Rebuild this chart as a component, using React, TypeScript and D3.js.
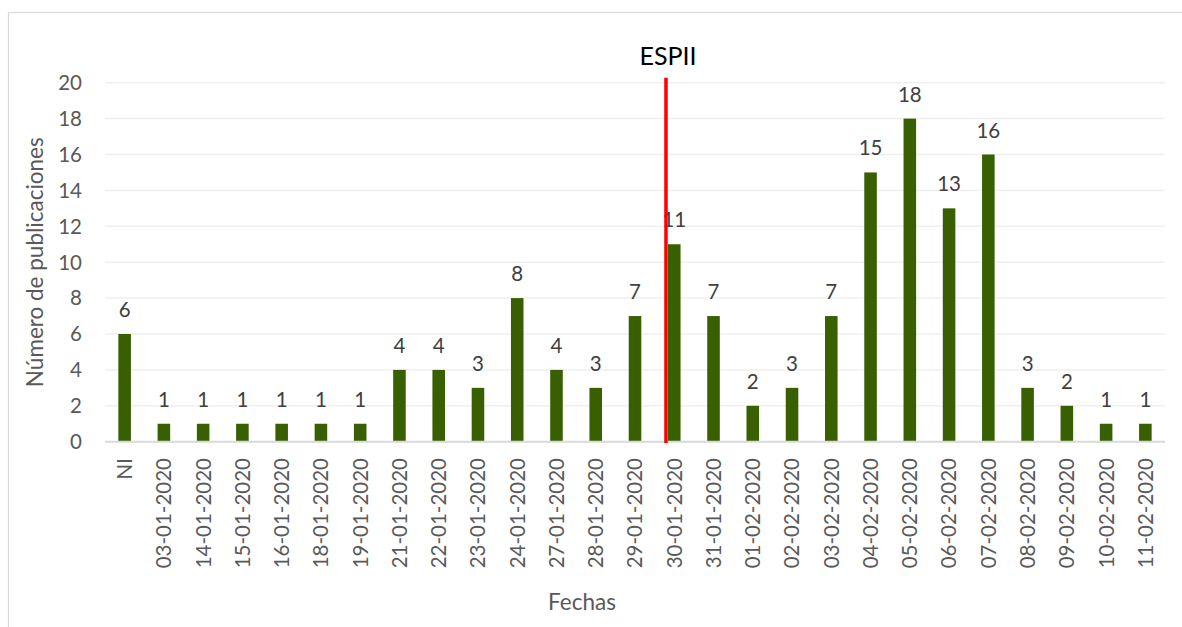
import React from "react";
import * as d3 from "d3";

const categories = [
  "NI", "03-01-2020", "14-01-2020", "15-01-2020", "16-01-2020", "18-01-2020",
  "19-01-2020", "21-01-2020", "22-01-2020", "23-01-2020", "24-01-2020",
  "27-01-2020", "28-01-2020", "29-01-2020", "30-01-2020", "31-01-2020",
  "01-02-2020", "02-02-2020", "03-02-2020", "04-02-2020", "05-02-2020",
  "06-02-2020", "07-02-2020", "08-02-2020", "09-02-2020", "10-02-2020",
  "11-02-2020",
];
const values = [6, 1, 1, 1, 1, 1, 1, 4, 4, 3, 8, 4, 3, 7, 11, 7, 2, 3, 7, 15, 18, 13, 16, 3, 2, 1, 1];
const yTicks = [0, 2, 4, 6, 8, 10, 12, 14, 16, 18, 20];
const markerCategory = "30-01-2020";
const markerLabel = "ESPII";
const yTitle = "Número de publicaciones";
const xTitle = "Fechas";

const W = 1182;
const H = 627;
const left = 105;
const right = 1165;
const top = 82.7;
const bottom = 441.7;
const FONT = "Lato, 'Open Sans', sans-serif";

export default function App() {
  const x = d3
    .scaleBand<string>()
    .domain(categories)
    .range([left, right])
    .paddingInner(0.68)
    .paddingOuter(0.34);
  const y = d3.scaleLinear().domain([0, 20]).range([bottom, top]);
  const bw = x.bandwidth();
  const markerX = (x(markerCategory) as number) - 2;

  return (
    <svg
      width={W}
      height={H}
      style={{ position: "absolute", left: 0, top: 0, background: "#fff" }}
      fontFamily={FONT}
    >
      <rect x={8.5} y={12.5} width={1300} height={800} fill="#fff" stroke="#d9d9d9" strokeWidth={1.2} />
      {yTicks.map((t) => (
        <g key={t}>
          {t > 0 && (
            <line x1={left} x2={right} y1={y(t)} y2={y(t)} stroke="#efefef" strokeWidth={1.5} />
          )}
          <text x={82} y={y(t)} dy="0.36em" textAnchor="end" fontSize={20.5} fill="#595959">
            {t}
          </text>
        </g>
      ))}
      {categories.map((c, i) => {
        const cx = (x(c) as number) + bw / 2;
        return (
          <g key={c}>
            <rect x={x(c)} y={y(values[i])} width={bw} height={y(0) - y(values[i])} fill="#386000" />
            <text x={cx} y={y(values[i]) - 17} textAnchor="middle" fontSize={20.5} fill="#404040">
              {values[i]}
            </text>
            <text
              transform={`translate(${cx},458) rotate(-90)`}
              dy="0.36em"
              textAnchor="end"
              fontSize={20.5}
              fill="#595959"
            >
              {c}
            </text>
          </g>
        );
      })}
      <line x1={left} x2={right} y1={y(0)} y2={y(0)} stroke="#d9d9d9" strokeWidth={2} />
      <line x1={markerX} x2={markerX} y1={77.7} y2={443} stroke="#ff0000" strokeWidth={3.5} />
      <text x={markerX + 2} y={65} textAnchor="middle" fontSize={25} fill="#000">
        {markerLabel}
      </text>
      <text
        transform={`translate(43,${(top + bottom) / 2}) rotate(-90)`}
        textAnchor="middle"
        fontSize={22.5}
        fill="#595959"
      >
        {yTitle}
      </text>
      <text x={582} y={610} textAnchor="middle" fontSize={22.5} fill="#595959">
        {xTitle}
      </text>
    </svg>
  );
}
